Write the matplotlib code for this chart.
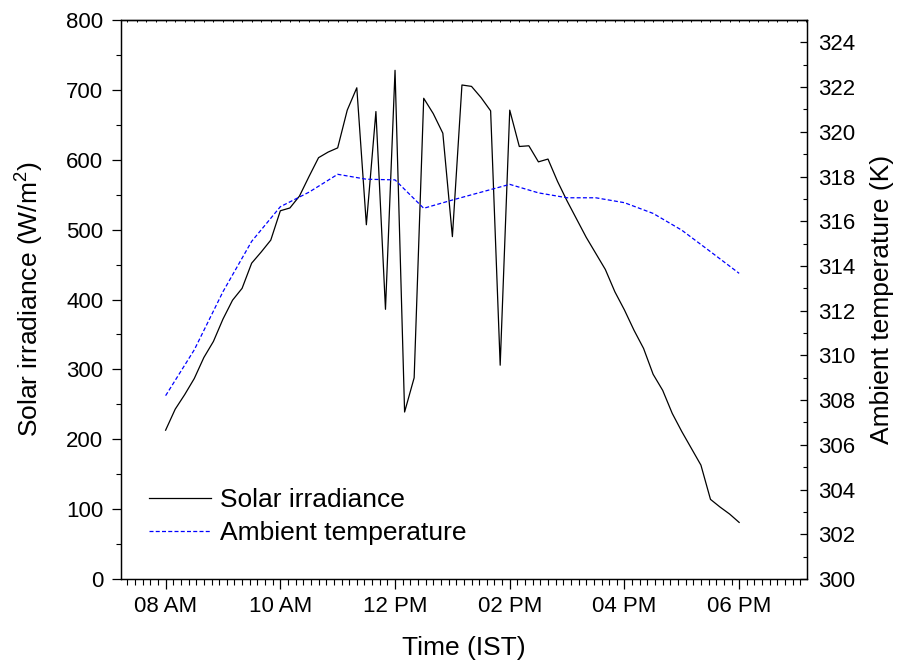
"""Solar irradiance and ambient temperature over one day."""

import matplotlib

matplotlib.use("Agg")

import matplotlib.dates as mdates
import matplotlib.pyplot as plt
import pandas as pd
from matplotlib.ticker import MultipleLocator, NullFormatter

plt.rcParams["font.family"] = ["Liberation Sans", "DejaVu Sans"]
plt.rcParams["mathtext.fontset"] = "custom"
plt.rcParams["mathtext.rm"] = "Liberation Sans"
plt.rcParams["mathtext.it"] = "Liberation Sans:italic"

DAY = "2019-05-01"

# readings every 10 minutes, 08:00 .. 18:00
solar_times = pd.date_range(f"{DAY} 08:00", f"{DAY} 18:00", freq="10min")
solar_irradiance = [
    213, 243, 264, 287, 317, 340,
    372, 399, 416, 452, 468, 485,
    527, 531, 548, 576, 603, 611,
    617, 671, 703, 507, 669, 386,
    728, 239, 288, 688, 666, 638,
    490, 707, 705, 689, 670, 306,
    671, 619, 620, 597, 601, 569,
    541, 515, 489, 466, 443, 411,
    385, 356, 330, 293, 270, 237,
    211, 187, 163, 114, 103, 93,
    81,
]

# readings every 30 minutes, 08:00 .. 18:00
temp_times = pd.date_range(f"{DAY} 08:00", f"{DAY} 18:00", freq="30min")
ambient_temp = [
    308.2, 310.25, 312.85, 315.1, 316.65, 317.3, 318.1, 317.88, 317.85, 316.58,
    316.95, 317.3, 317.65, 317.27, 317.05, 317.05, 316.83, 316.35, 315.6, 314.64,
    313.67,
]

fig = plt.figure(figsize=(9, 6.67), dpi=100)
ax = fig.add_axes([0.1341, 0.1319, 0.7626, 0.8381])
ax2 = ax.twinx()

line_solar, = ax.plot(solar_times, solar_irradiance, color="black", lw=0.9,
                      label="Solar irradiance")
line_temp, = ax2.plot(temp_times, ambient_temp, color="#0000ff", lw=0.9,
                      dashes=(3.2, 1.8), label="Ambient temperature")

ax.set_xlim(pd.Timestamp(f"{DAY} 07:13"), pd.Timestamp(f"{DAY} 19:11"))
ax.set_ylim(0, 800)
ax2.set_ylim(300, 325)

ax.xaxis.set_major_locator(mdates.HourLocator(byhour=range(0, 24, 2)))
ax.xaxis.set_major_formatter(mdates.DateFormatter("%I %p"))
ax.xaxis.set_minor_locator(MultipleLocator(8 / 1440))
ax.yaxis.set_major_locator(MultipleLocator(100))
ax.yaxis.set_minor_locator(MultipleLocator(50))
ax2.yaxis.set_major_locator(MultipleLocator(2))
ax2.yaxis.set_minor_locator(MultipleLocator(1))

ax.tick_params(axis="x", which="major", direction="out", length=7, width=0.9,
               labelsize=16, pad=5, top=False)
ax.tick_params(axis="x", which="minor", direction="out", length=4, width=0.8, top=False)
ax.tick_params(axis="y", which="major", direction="out", length=6.5, width=0.9,
               labelsize=16, pad=6)
ax.tick_params(axis="y", which="minor", direction="out", length=3.5, width=0.8)
ax2.tick_params(axis="y", which="major", direction="in", length=5, width=0.9,
                labelsize=16, pad=8)
ax2.tick_params(axis="y", which="minor", direction="in", length=3, width=0.8)

# small inward ticks along the top edge, one per reading
top = ax.secondary_xaxis("top")
top.xaxis.set_major_locator(MultipleLocator(10 / 1440))
top.xaxis.set_major_formatter(NullFormatter())
top.tick_params(direction="in", length=1.5, width=0.7)

for a in (ax, ax2):
    for spine in a.spines.values():
        spine.set_linewidth(0.9)
top.spines["top"].set_linewidth(0.9)

ax.set_xlabel("Time (IST)", fontsize=19)
ax.xaxis.set_label_coords(0.5, -0.102)
ax.set_ylabel("Solar irradiance (W/m$^2$)", fontsize=19)
ax.yaxis.set_label_coords(-0.109, 0.5)
ax2.set_ylabel("Ambient temperature (K)", fontsize=19)
ax2.yaxis.set_label_coords(1.092, 0.5)

ax.legend(handles=[line_solar, line_temp], loc="center left",
          bbox_to_anchor=(0.0412, 0.112), frameon=False, fontsize=19,
          handlelength=2.35, handletextpad=0.35, labelspacing=0.33,
          borderpad=0, borderaxespad=0)

fig.savefig("out.png", dpi=100)
plt.close(fig)
